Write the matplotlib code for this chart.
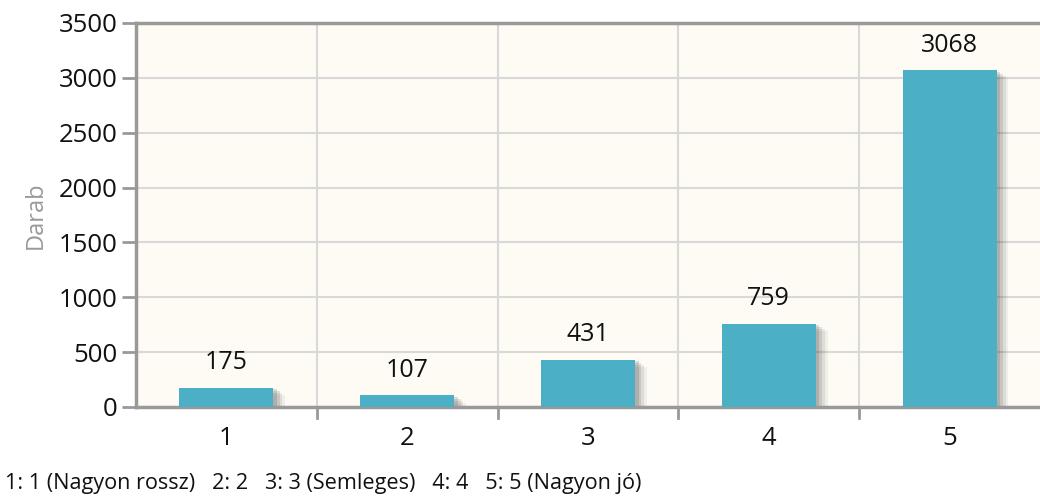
import matplotlib.pyplot as plt
import numpy as np

categories = ["1", "2", "3", "4", "5"]
counts = [175, 107, 431, 759, 3068]
yticks = [0, 500, 1000, 1500, 2000, 2500, 3000, 3500]
legend_text = "1: 1 (Nagyon rossz)   2: 2   3: 3 (Semleges)   4: 4   5: 5 (Nagyon jó)"

plt.rcParams['font.family'] = ['Open Sans', 'DejaVu Sans']

fig = plt.figure(figsize=(10.4, 5.01), dpi=100)
ax = fig.add_axes([136 / 1040, 1 - 407 / 501, (1040 - 136) / 1040, 384 / 501])
ax.set_facecolor("#fdfbf4")

x = np.arange(len(categories))
w = 0.52

# soft shadow behind bars
for dx, dy, a in [(0.065, 70, 0.07), (0.05, 50, 0.10), (0.035, 30, 0.14), (0.02, 15, 0.18)]:
    ax.bar(x + dx, np.array(counts) - dy, width=w, bottom=0,
           color="#444444", alpha=a, zorder=2, linewidth=0)

ax.bar(x, counts, width=w, color="#4bb0c6", zorder=3, linewidth=0)

for xi, v in zip(x, counts):
    ax.annotate(str(v), (xi, v), xytext=(0, 9), textcoords="offset points",
                ha="center", va="bottom", fontsize=18, color="#111111")

ax.set_xlim(-0.5, len(categories) - 0.5)
ax.set_ylim(0, 3500)
ax.set_yticks(yticks)
ax.set_yticklabels([str(t) for t in yticks], fontsize=18.5, color="#111111")
ax.set_xticks(x)
ax.set_xticklabels(categories, fontsize=18.5, color="#111111")
ax.tick_params(axis="x", length=0, pad=14)
ax.tick_params(axis="y", length=10, width=2, color="#999999", pad=3)

# vertical gridlines between categories, with tick stubs below axis
bounds = np.arange(len(categories) + 1) - 0.5
for b in bounds[1:-1]:
    ax.axvline(b, color="#d9d9d9", lw=1.5, zorder=1)
    ax.plot([b, b], [0, -100], color="#999999", lw=2, clip_on=False, zorder=4)
ax.yaxis.grid(True, color="#d9d9d9", lw=1.5, zorder=1)
ax.set_axisbelow(True)

for s in ["left", "top", "bottom"]:
    ax.spines[s].set_color("#999999")
    ax.spines[s].set_linewidth(2.5)
ax.spines["right"].set_visible(False)

ax.set_ylabel("Darab", fontsize=17, color="#999999", labelpad=8)

fig.text(5 / 1040, 1 - 483 / 501, legend_text, fontsize=15.6, color="#111111",
         va="center", ha="left")

fig.savefig("out.png", dpi=100)
